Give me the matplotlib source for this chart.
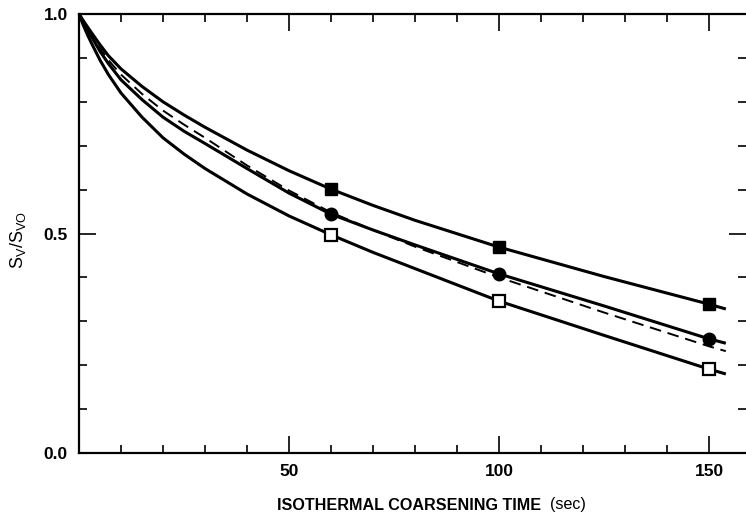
import numpy as np
import matplotlib
matplotlib.use('Agg')
import matplotlib.pyplot as plt
from matplotlib.ticker import MultipleLocator, FixedLocator

# curve samples (time in sec, Sv/Svo)
curve_t = [0, 1, 2, 3, 5, 7, 10, 15, 20, 25, 30, 40, 50, 60, 70, 80, 100, 125, 150, 154]
top_curve = [1.000, 0.985, 0.971, 0.957, 0.930, 0.905, 0.875, 0.835, 0.800, 0.770, 0.742,
             0.690, 0.643, 0.601, 0.564, 0.530, 0.469, 0.402, 0.339, 0.328]
mid_curve = [1.000, 0.982, 0.965, 0.948, 0.915, 0.887, 0.850, 0.805, 0.765, 0.733, 0.705,
             0.648, 0.592, 0.544, 0.508, 0.474, 0.408, 0.335, 0.260, 0.250]
dash_curve = [1.000, 0.983, 0.967, 0.952, 0.922, 0.895, 0.862, 0.818, 0.780, 0.748, 0.718,
              0.655, 0.598, 0.548, 0.508, 0.470, 0.400, 0.320, 0.243, 0.232]
low_curve = [1.000, 0.975, 0.953, 0.933, 0.895, 0.862, 0.820, 0.765, 0.718, 0.681, 0.648,
             0.590, 0.540, 0.497, 0.457, 0.420, 0.346, 0.268, 0.191, 0.180]

# measured points
point_t = [60, 100, 150]
filled_sq = [0.601, 0.469, 0.339]
filled_circ = [0.544, 0.408, 0.260]
open_sq = [0.497, 0.346, 0.191]

x_major = [50, 100, 150]
y_major = [0.0, 0.5, 1.0]

fig = plt.figure(figsize=(7.46, 5.17), dpi=100)
ax = fig.add_axes([79/746, 1-453/517, 1-79/746, (453-14)/517])

lw = 2.2
ax.plot(curve_t, top_curve, color='k', lw=lw, solid_capstyle='butt', solid_joinstyle='round')
ax.plot(curve_t, mid_curve, color='k', lw=lw, solid_capstyle='butt', solid_joinstyle='round')
ax.plot(curve_t, low_curve, color='k', lw=lw, solid_capstyle='butt', solid_joinstyle='round')
ax.plot(curve_t, dash_curve, color='k', lw=1.4, dashes=(6, 3.5))

ax.plot(point_t, filled_sq, ls='none', marker='s', ms=9, color='k', zorder=5)
ax.plot(point_t, filled_circ, ls='none', marker='o', ms=9, color='k', zorder=5)
ax.plot(point_t, open_sq, ls='none', marker='s', ms=9, mfc='white', mec='k', mew=1.6, zorder=5)

ax.set_xlim(0, 158.8)
ax.set_ylim(0, 1.0)

ax.xaxis.set_major_locator(FixedLocator(x_major))
ax.xaxis.set_minor_locator(MultipleLocator(10))
ax.yaxis.set_major_locator(FixedLocator(y_major))
ax.yaxis.set_minor_locator(MultipleLocator(0.1))
ax.set_xticklabels([str(v) for v in x_major])
ax.set_yticklabels(['%.1f' % v for v in y_major])

ax.tick_params(which='both', direction='in', top=True, right=True, width=1.2, colors='k')
ax.tick_params(which='major', length=12, pad=8)
ax.tick_params(which='minor', length=6)
for lab in ax.get_xticklabels() + ax.get_yticklabels():
    lab.set_family('Liberation Sans')
    lab.set_fontweight('bold')
    lab.set_fontsize(12.5)

for side in ['left', 'top', 'bottom']:
    ax.spines[side].set_linewidth(1.6)
ax.spines['right'].set_visible(False)

fig.text(277/746, 1-505/517, 'ISOTHERMAL COARSENING TIME', fontsize=11.6, fontweight='bold',
         family='Liberation Sans', ha='left', va='center')
fig.text(550/746, 1-505/517, '(sec)', fontsize=11.6, family='Liberation Sans', ha='left', va='center')
fig.text(18/746, 1-240/517, r'$\mathregular{S_V/S_{VO}}$', fontsize=13, family='Liberation Sans',
         rotation=90, ha='center', va='center')

fig.savefig('out.png', dpi=100)
